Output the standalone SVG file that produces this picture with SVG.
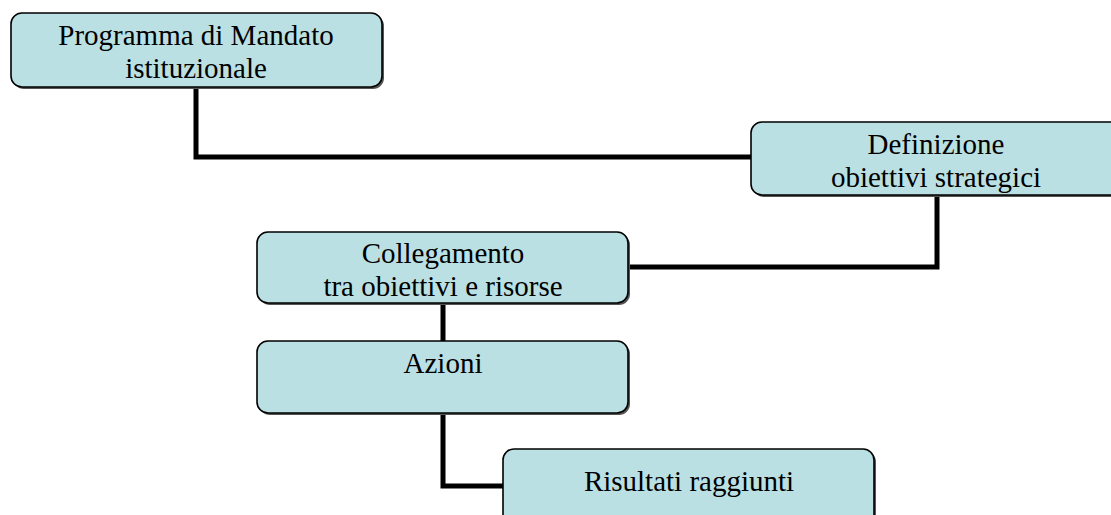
<svg xmlns="http://www.w3.org/2000/svg" width="1111" height="515" viewBox="0 0 1111 515">
<style>
.box{fill:#BBE0E3;stroke:#000;stroke-width:1.6}
.sh{fill:#555}
.t{font-family:"Liberation Serif","Times New Roman",serif;font-size:29px;fill:#000;text-anchor:middle}
.c{fill:none;stroke:#000;stroke-width:5;stroke-linejoin:miter}
</style>
<rect width="1111" height="515" fill="#fff"/>
<g id="connectors">
<polyline class="c" points="196,87 196,157 751,157"/>
<polyline class="c" points="937,195 937,267 628,267"/>
<polyline class="c" points="443,303 443,341"/>
<polyline class="c" points="443,413 443,486 503,486"/>
</g>
<g id="n1">
<rect class="sh" x="13" y="15" width="371" height="74" rx="11"/>
<rect class="box" x="11" y="13" width="371" height="74" rx="11"/>
<text class="t" x="196" y="45">Programma di Mandato</text>
<text class="t" x="196" y="78">istituzionale</text>
</g>
<g id="n2">
<rect class="sh" x="753" y="124" width="370" height="73" rx="11"/>
<rect class="box" x="751" y="122" width="370" height="73" rx="11"/>
<text class="t" x="936" y="154">Definizione</text>
<text class="t" x="936" y="187">obiettivi strategici</text>
</g>
<g id="n3">
<rect class="sh" x="259" y="234" width="371" height="71" rx="11"/>
<rect class="box" x="257" y="232" width="371" height="71" rx="11"/>
<text class="t" x="443" y="263">Collegamento</text>
<text class="t" x="443" y="296">tra obiettivi e risorse</text>
</g>
<g id="n4">
<rect class="sh" x="259" y="343" width="371" height="72" rx="11"/>
<rect class="box" x="257" y="341" width="371" height="72" rx="11"/>
<text class="t" x="443" y="373">Azioni</text>
</g>
<g id="n5">
<rect class="sh" x="505" y="451" width="371" height="80" rx="11"/>
<rect class="box" x="503" y="449" width="371" height="80" rx="11"/>
<text class="t" x="689" y="491">Risultati raggiunti</text>
</g>
</svg>
